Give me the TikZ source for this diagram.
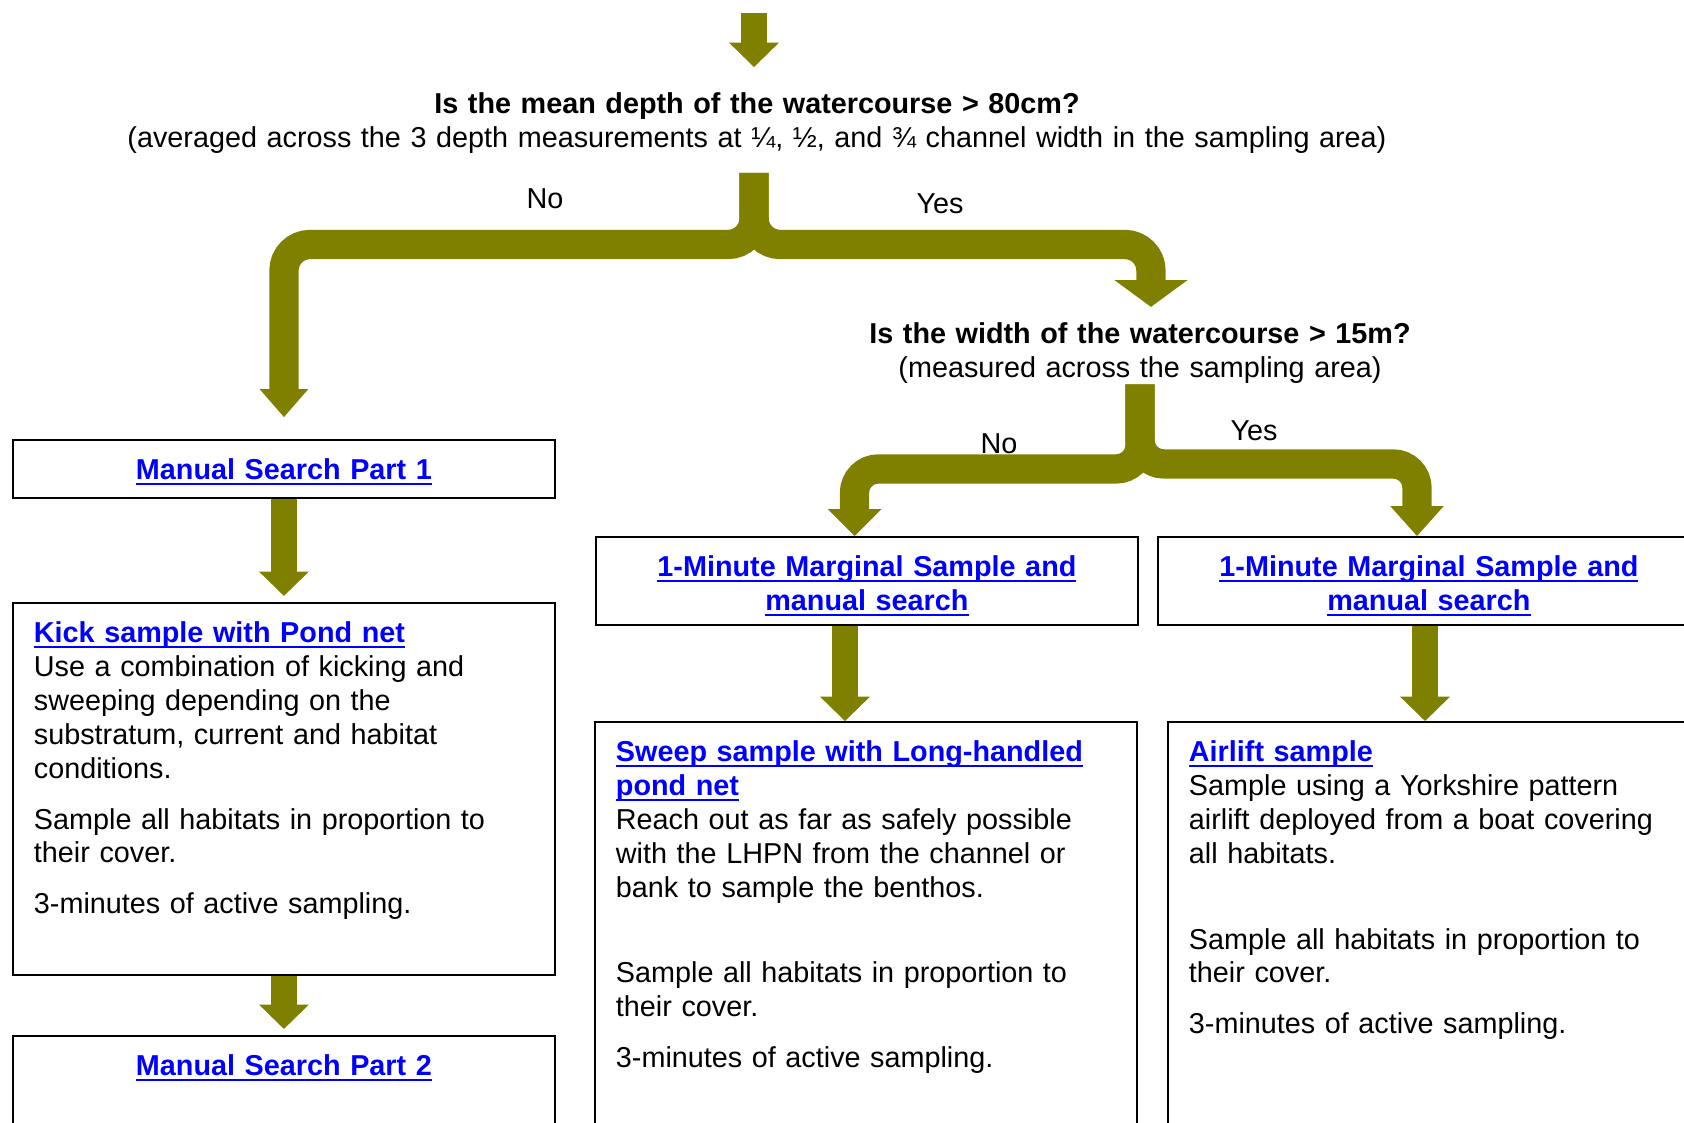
\documentclass[tikz,border=0pt]{standalone}
\usepackage{fontspec}
\setmainfont{Liberation Sans}
\usetikzlibrary{positioning, arrows.meta}
\definecolor{olivearrow}{RGB}{128,128,0}
\definecolor{linkblue}{RGB}{0,0,255}
\newcommand{\linktext}[1]{\leavevmode{\bfseries\color{linkblue}\setbox0\hbox{#1}\rlap{\rule[-2.2pt]{\wd0}{0.9pt}}\box0}}

\begin{document}
\begin{tikzpicture}[x=0.41pt, y=-0.41pt,
	every node/.style={font=\fontsize{11.8}{13.9}\selectfont},
	panel/.style={draw, line width=0.8pt, anchor=north west, text width=205pt, inner xsep=8.6pt, inner ysep=0pt, text height=16.2pt, align=left},
	question/.style={anchor=north, text width=540pt, align=center, inner sep=0pt, text height=8.8pt, text depth=16.4pt},
	blockarrow/.style={olivearrow, line width=11pt, -{Triangle[width=20.5pt, length=10pt, line width=0pt]}},
	band/.style={olivearrow, line width=12pt}]
	\path[use as bounding box, clip] (0,0) rectangle (1684,1122);
	
	% questions
	\node[question] (q1) at (757,92) {\textbf{Is the mean depth of the watercourse > 80cm?}\\(averaged across the 3 depth measurements at ¼, ½, and ¾ channel width in the sampling area)};
	\node[question, text width=260pt] (q2) at (1140,322) {\textbf{Is the width of the watercourse > 15m?}\\(measured across the sampling area)};
	
	% boxes
	\node[panel, align=center, text depth=7.6pt] (ms1) at (12,439) {\linktext{Manual Search Part 1}};
	\node[panel, text depth=136.5pt] (kick) at (12,602) {\linktext{Kick sample with Pond net}\\
		Use a combination of kicking and\\ sweeping depending on the\\ substratum, current and habitat\\ conditions.\\[7pt]
		Sample all habitats in proportion to\\ their cover.\\[7pt]
		3-minutes of active sampling.};
	\node[panel, align=center, text depth=60pt] (ms2) at (12,1035) {\linktext{Manual Search Part 2}};
	\node[panel, align=center, text depth=19.9pt] (minL) at (595,536) {\linktext{1-Minute Marginal Sample and}\\ \linktext{manual search}};
	\node[panel, align=center, text depth=19.9pt] (minR) at (1157,536) {\linktext{1-Minute Marginal Sample and}\\ \linktext{manual search}};
	\node[panel, text depth=160pt] (sweep) at (594,721) {\linktext{Sweep sample with Long-handled}\\ \linktext{pond net}\\
		Reach out as far as safely possible\\ with the LHPN from the channel or\\ bank to sample the benthos.\\[21.3pt]
		Sample all habitats in proportion to\\ their cover.\\[7pt]
		3-minutes of active sampling.};
	\node[panel, text depth=160pt] (airlift) at (1167,721) {\linktext{Airlift sample}\\
		Sample using a Yorkshire pattern\\ airlift deployed from a boat covering\\ all habitats.\\[21.3pt]
		Sample all habitats in proportion to\\ their cover.\\[7pt]
		3-minutes of active sampling.};
	
	% fork points
	\coordinate (entry) at (754,13);
	\coordinate (q1top) at ([yshift=10.25pt]q1.north);
	\path ([xshift=-1.2pt,yshift=-7.6pt]q1.south) coordinate (stem1) ++(0,71.5) coordinate (fork1);
	\coordinate (drop1) at ([xshift=4.5pt,yshift=6.2pt]q2.north);
	\path (q2.south) ++(0,84.5) coordinate (fork2l) ++(0,-5) coordinate (fork2r);
	\coordinate (in2l) at ([xshift=-5.1pt]minL.north);
	\coordinate (in2r) at ([xshift=-4.9pt]minR.north);
	\coordinate (out2l) at ([xshift=-9pt]minL.south);
	\coordinate (out2r) at ([xshift=-1.6pt]minR.south);
	
	% arrows
	\draw[blockarrow] (entry) -- (entry |- q1top);
	\draw[band, rounded corners=10.7pt, -{Triangle[width=20pt, length=11.5pt, line width=0pt]}] (stem1) -- (fork1) -- (fork1 -| ms1.north) [rounded corners=11.5pt] -- ([yshift=9pt]ms1.north);
	\draw[band, rounded corners=10.7pt, -{Triangle[width=30pt, length=11pt, line width=0pt]}] (stem1) -- (fork1) -- (fork1 -| drop1) [rounded corners=14pt] -- (drop1);
	\draw[band, rounded corners=9.8pt, -{Triangle[width=22pt, length=11pt, line width=0pt]}] (q2.south) -- (fork2l) -- (fork2l -| in2l) [rounded corners=12.7pt] -- (in2l);
	\draw[band, rounded corners=9.8pt, -{Triangle[width=22pt, length=12.3pt, line width=0pt]}] (q2.south) -- (fork2r) -- (fork2r -| in2r) [rounded corners=16pt] -- (in2r);
	\draw[blockarrow] (ms1.south) -- ([yshift=2.5pt]kick.north);
	\draw[blockarrow] (kick.south) -- ([yshift=2.5pt]ms2.north);
	\draw[blockarrow] (out2l) -- (out2l |- sweep.north);
	\draw[blockarrow] (out2r) -- (out2r |- airlift.north);
	
	\node[anchor=base] (no1) at (545,208.5) {No};
	\node[anchor=base] (yes1) at (940,213.5) {Yes};
	\node[anchor=base] (no2) at (999,453.5) {No};
	\node[anchor=base] (yes2) at (1254,440) {Yes};
\end{tikzpicture}
\end{document}
